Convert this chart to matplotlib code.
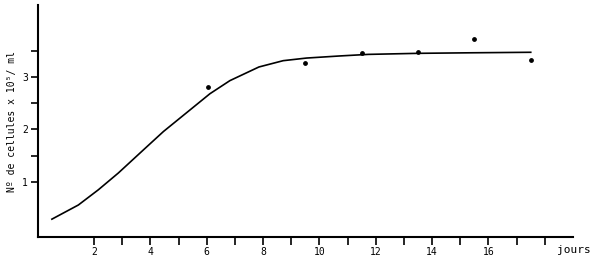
import matplotlib
matplotlib.use("Agg")
import matplotlib.pyplot as plt

# growth curve (jours, cellules x 10^5/ml)
curve_days = [0.5, 1.44, 2.15, 2.86, 3.81, 4.46, 5.40, 6.11, 6.82, 7.85,
              8.71, 9.54, 10.72, 11.73, 13.5, 15.3, 17.5]
curve_cells = [0.29, 0.56, 0.85, 1.17, 1.64, 1.96, 2.37, 2.68, 2.93, 3.19,
               3.31, 3.36, 3.40, 3.43, 3.45, 3.46, 3.47]

# measured points
obs_days = [6.05, 9.5, 11.5, 13.5, 15.5, 17.5]
obs_cells = [2.80, 3.26, 3.45, 3.48, 3.72, 3.32]

x_ticks = list(range(2, 19))
x_labels = [str(d) if d % 2 == 0 and d <= 16 else "" for d in x_ticks]
y_ticks = [1, 1.5, 2, 2.5, 3, 3.5]
y_labels = ["1", "", "2", "", "3", ""]

plt.rcParams["font.family"] = ["DejaVu Sans Mono"]

fig = plt.figure(figsize=(6, 2.66), dpi=100)
ax = fig.add_axes([0.063, 0.109, 0.892, 0.872])

ax.plot(curve_days, curve_cells, color="black", linewidth=1.2,
        solid_joinstyle="round")
ax.scatter(obs_days, obs_cells, color="black", s=6, zorder=3)

ax.set_xlim(0, 19)
ax.set_ylim(-0.05, 4.37)
ax.set_xticks(x_ticks)
ax.set_xticklabels(x_labels, fontsize=7)
ax.set_yticks(y_ticks)
ax.set_yticklabels(y_labels, fontsize=7)
ax.tick_params(axis="x", direction="out", length=6, width=1.2, pad=1)
ax.tick_params(axis="y", direction="out", length=5, width=1.2, pad=2)

for side in ["top", "right"]:
    ax.spines[side].set_visible(False)
for side in ["left", "bottom"]:
    ax.spines[side].set_linewidth(1.5)

ax.set_ylabel("Nº de cellules x 10⁵/ ml", fontsize=7, labelpad=4)
fig.text(0.985, 0.04, "jours", fontsize=8, ha="right", va="bottom")

fig.savefig("out.png", dpi=100)
